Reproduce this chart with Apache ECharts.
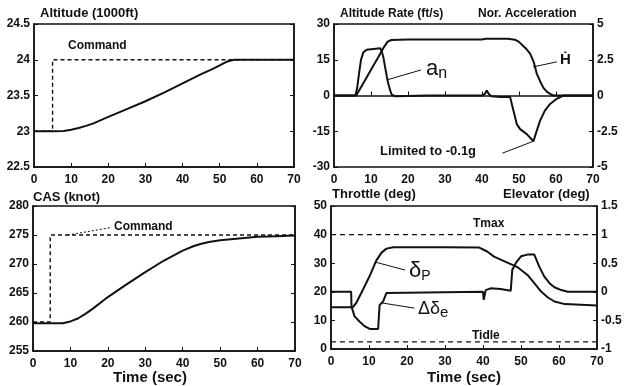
<!DOCTYPE html>
<html>
<head>
<meta charset="utf-8">
<script src="https://cdn.jsdelivr.net/npm/echarts@6/dist/echarts.min.js"></script>
<style>
  html, body { margin: 0; padding: 0; background: #fff; }
  #chart { width: 627px; height: 386px; }
</style>
</head>
<body>
<div id="chart"></div>
<script>
// time axis ticks
const timeTicks = [0, 10, 20, 30, 40, 50, 60, 70];

// altitude (1000 ft)
const altT = [0, 5, 8, 10, 12, 14, 16, 20, 25, 30, 35, 40, 45, 48, 50, 51, 52, 53, 54, 60, 70];
const altV = [23, 23, 23.005, 23.02, 23.045, 23.075, 23.11, 23.2, 23.31, 23.42, 23.54, 23.67, 23.8, 23.87, 23.92, 23.95, 23.975, 23.99, 24.0, 24.0, 24.0];
const altCmdT = [0, 5, 5, 70];
const altCmdV = [23, 23, 24, 24];

// altitude rate (ft/s)
const hdotT = [0, 6, 8, 10, 12, 13.5, 14.5, 15.5, 20, 30, 40, 41, 47, 48.9, 50, 51, 52, 53, 54, 54.8, 55.7, 56.6, 57.5, 58.4, 59.3, 70];
const hdotV = [0, 0, 5.4, 10.8, 16.2, 20.3, 22.6, 23.3, 23.5, 23.5, 23.5, 23.8, 23.8, 23.4, 22.5, 21, 19.5, 17.6, 14, 9.2, 6, 3.2, 1.6, 0.7, 0, 0];

// normal acceleration
const anT = [0, 5.8, 6.3, 6.8, 7.3, 7.9, 8.8, 12.5, 12.9, 13.4, 13.8, 14.3, 14.7, 15.2, 15.6, 16.5, 20, 25, 40, 40.8, 41.3, 41.8, 42.5, 45, 47.6, 48.5, 49.4, 50.3, 52.1, 53.9, 54.5, 55.7, 57, 58.4, 60.2, 62, 70];
const anV = [0, 0, 0.6, 1.6, 2.5, 3.0, 3.2, 3.3, 3.1, 2.6, 2.0, 1.3, 0.8, 0.35, 0.05, -0.05, -0.03, 0, 0, 0.12, 0.35, 0.12, -0.05, -0.1, -0.1, -1.06, -2.0, -2.35, -2.7, -3.2, -2.7, -1.76, -1.06, -0.59, -0.23, 0, 0];

// CAS (knot)
const casT = [0, 8, 10, 12, 14, 16, 20, 25, 30, 35, 40, 43, 45, 47, 50, 55, 60, 65, 70];
const casV = [259.8, 259.8, 260.1, 260.6, 261.4, 262.3, 264.3, 266.5, 268.6, 270.6, 272.3, 273.1, 273.5, 273.8, 274.1, 274.4, 274.7, 274.8, 274.9];
const casCmdT = [0, 4.6, 4.6, 70];
const casCmdV = [260, 260, 275, 275];

// throttle (deg)
const thrT = [0, 5.7, 6.6, 8.4, 10.2, 11.9, 13.3, 14.6, 16.4, 30, 38.9, 41.1, 42.9, 46.4, 49.1, 51.7, 53.5, 55.3, 57, 58.8, 61.5, 70];
const thrV = [14.6, 14.6, 16, 20.7, 25.6, 30.9, 33.7, 35.1, 35.6, 35.6, 35.5, 34.1, 32.3, 30.2, 28.6, 25.9, 23, 20.1, 18.1, 16.6, 15.7, 15.2];
const tmaxV = 40;
const tidleV = 2.5;

// elevator (deg)
const elvT = [0, 5.3, 5.4, 6.2, 6.6, 7.5, 8.8, 10.2, 12.4, 12.6, 12.8, 13.7, 14.6, 15, 40, 40.2, 40.7, 42, 44.6, 47.3, 47.7, 48.6, 50, 51.7, 53.5, 54, 54.8, 56.1, 57.5, 58.8, 60.6, 62.3, 70];
const elvV = [0, 0, -0.26, -0.43, -0.46, -0.52, -0.6, -0.65, -0.65, -0.43, -0.23, -0.17, -0.02, 0, 0, -0.14, 0.03, 0.06, 0.05, 0.02, 0.38, 0.5, 0.62, 0.65, 0.65, 0.62, 0.44, 0.27, 0.15, 0.08, 0.03, 0, 0];

const pairs = (t, v) => t.map((x, i) => [x, v[i]]);

const FONT = 'Liberation Sans';
const black = '#111';

const grids = [
  { left: 34, top: 24, width: 260, height: 143 },
  { left: 334, top: 24, width: 259, height: 143 },
  { left: 33, top: 206, width: 262, height: 145 },
  { left: 331, top: 206, width: 266, height: 143 }
];

const xAxisFor = (gi) => ({
  type: 'value', gridIndex: gi, min: timeTicks[0], max: timeTicks[timeTicks.length - 1], interval: 10,
  axisLine: { lineStyle: { color: black, width: 1.5 } },
  axisTick: { inside: true, length: 4, lineStyle: { color: black } },
  axisLabel: { color: black, fontFamily: FONT, fontWeight: 'bold', fontSize: 12, margin: 7 },
  splitLine: { show: false }
});

const yAxisFor = (gi, min, max, interval, position, showLabel = true) => ({
  type: 'value', gridIndex: gi, min, max, interval, position,
  axisLine: { show: true, onZero: false, lineStyle: { color: black, width: 1.5 } },
  axisTick: { show: true, inside: true, length: 4, lineStyle: { color: black } },
  axisLabel: { show: showLabel, color: black, fontFamily: FONT, fontWeight: 'bold', fontSize: 12, margin: 4 },
  splitLine: { show: false }
});

const solid = { color: black, width: 2 };
const dashed = { color: black, width: 1.4, type: [4, 3] };
const leaderStyle = { color: black, width: 1, type: 'solid' };

const line = (name, xi, yi, data, lineStyle, extra = {}) => ({
  name, type: 'line', xAxisIndex: xi, yAxisIndex: yi, data, showSymbol: false, symbol: 'none',
  lineStyle, animation: false, z: 3, ...extra
});

const leaders = (segments, style = leaderStyle) => ({
  silent: true, symbol: ['none', 'none'], label: { show: false }, lineStyle: style,
  data: segments.map(s => [{ coord: s[0] }, { coord: s[1] }])
});

const txt = (text, x, y, size = 12, extra = {}) => ({
  type: 'text', left: x, top: y,
  style: { text, fill: black, font: `bold ${size}px "${FONT}"`, ...extra }
});

const option = {
  backgroundColor: '#fff',
  animation: false,
  grid: grids.map(g => ({ ...g, show: true, borderColor: black, borderWidth: 1.5, backgroundColor: 'transparent' })),
  xAxis: [xAxisFor(0), xAxisFor(1), xAxisFor(2), xAxisFor(3)],
  yAxis: [
    yAxisFor(0, 22.5, 24.5, 0.5, 'left'),
    yAxisFor(1, -30, 30, 15, 'left'),
    yAxisFor(1, -5, 5, 2.5, 'right'),
    yAxisFor(2, 255, 280, 5, 'left'),
    yAxisFor(3, 0, 50, 10, 'left'),
    yAxisFor(3, -1, 1.5, 0.5, 'right'),
    yAxisFor(0, 22.5, 24.5, 0.5, 'right', false),
    yAxisFor(2, 255, 280, 5, 'right', false)
  ],
  series: [
    line('Altitude', 0, 0, pairs(altT, altV), solid),
    line('Altitude command', 0, 0, pairs(altCmdT, altCmdV), dashed),
    line('Hdot', 1, 1, pairs(hdotT, hdotV), solid, {
      markLine: leaders([
        [[14.2, 6.5], [23.5, 10.7]],
        [[53.8, 12.0], [60.2, 14.1]],
        [[45.5, -24.2], [53.9, -19.2]]
      ])
    }),
    line('an', 1, 2, pairs(anT, anV), solid),
    line('CAS', 2, 3, pairs(casT, casV), solid),
    line('CAS command', 2, 3, pairs(casCmdT, casCmdV), dashed, {
      markLine: leaders([[[9.4, 275], [21, 276.3]]], { color: black, width: 1, type: [2, 2] })
    }),
    line('Throttle', 3, 4, pairs(thrT, thrV), solid, {
      markLine: leaders([
        [[11.6, 30.4], [19.5, 27.6]],
        [[13.4, 16.1], [22.0, 14.3]]
      ])
    }),
    line('Tmax', 3, 4, [[0, tmaxV], [70, tmaxV]], { color: black, width: 1.4, type: [5, 4] }),
    line('Tidle', 3, 4, [[0, tidleV], [70, tidleV]], { color: black, width: 1.4, type: [5, 4] }),
    line('Elevator', 3, 5, pairs(elvT, elvV), solid)
  ],
  graphic: [
    txt('Altitude (1000ft)', 40, 7, 13),
    txt('Altitude Rate (ft/s)', 340, 8, 12),
    txt('Nor. Acceleration', 478, 8, 12),
    txt('CAS (knot)', 33, 191, 13),
    txt('Throttle (deg)', 332, 188, 13),
    txt('Elevator (deg)', 503, 188, 13),
    txt('Time (sec)', 113, 370, 15),
    txt('Time (sec)', 427, 370, 15),
    txt('Command', 68, 40, 12),
    txt('Command', 114, 221, 12),
    txt('Limited to -0.1g', 380, 145, 13),
    txt('Tmax', 473, 218, 12),
    txt('Tidle', 472, 330, 12),
    {
      type: 'text', left: 426, top: 58,
      style: { text: '{a|a}{n|n}', fill: black, rich: {
        a: { fontSize: 22, fontFamily: FONT, fill: black },
        n: { fontSize: 16, fontFamily: FONT, fill: black, padding: [10, 0, 0, 0] }
      } }
    },
    {
      type: 'text', left: 560, top: 52,
      style: { text: '\u1E22', fill: black, font: `bold 15px "${FONT}"` }
    },
    {
      type: 'text', left: 409, top: 260,
      style: { text: '{a|\u03B4}{p|P}', fill: black, rich: {
        a: { fontSize: 22, fontFamily: FONT, fill: black },
        p: { fontSize: 14, fontFamily: FONT, fill: black, padding: [10, 0, 0, 0] }
      } }
    },
    {
      type: 'text', left: 418, top: 300,
      style: { text: '{a|\u0394\u03B4}{e|e}', fill: black, rich: {
        a: { fontSize: 18, fontFamily: FONT, fill: black },
        e: { fontSize: 15, fontFamily: FONT, fill: black, padding: [8, 0, 0, 0] }
      } }
    }
  ]
};

const chart = echarts.init(document.getElementById('chart'), null, { renderer: 'canvas' });
chart.setOption(option);
</script>
</body>
</html>
